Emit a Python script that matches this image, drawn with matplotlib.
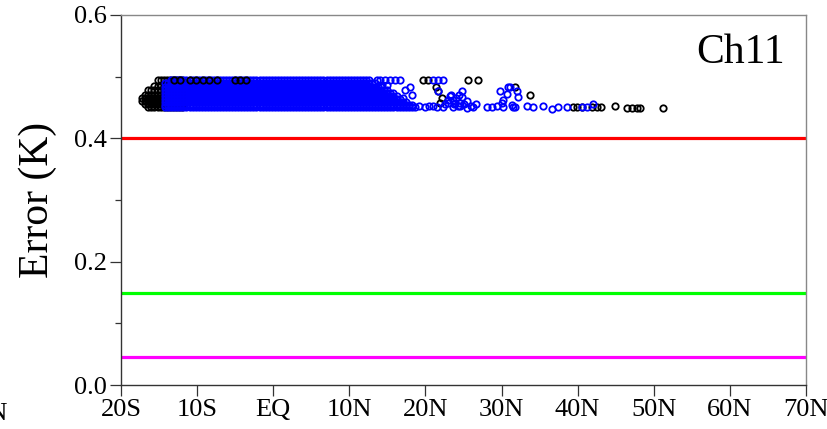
import numpy as np
import matplotlib
matplotlib.use("Agg")
import matplotlib.pyplot as plt

plt.rcParams['font.family'] = ['Liberation Serif', 'DejaVu Serif']

# ---- axis ticks ----
x_ticks = [-20, -10, 0, 10, 20, 30, 40, 50, 60, 70]
x_labels = ['20S', '10S', 'EQ', '10N', '20N', '30N', '40N', '50N', '60N', '70N']
y_ticks = [0.0, 0.2, 0.4, 0.6]
y_labels = ['0.0', '0.2', '0.4', '0.6']

# ---- threshold lines ----
thr_values = [0.4, 0.15, 0.046]
thr_colors = ['#ff0000', '#00ff00', '#ff00ff']

# ---- dense band (blue): latitudes read along each row, row error, row extent ----
band_lats = [-14.2, -13.8, -13.4, -13.0, -12.6, -12.2, -11.8, -11.4, -11.0, -10.6,
             -10.2, -9.8, -9.4, -9.0, -8.6, -8.2, -7.8, -7.4, -7.0, -6.6,
             -6.2, -5.8, -5.4, -5.0, -4.6, -4.2, -3.8, -3.4, -3.0, -2.6,
             -2.2, -1.8, -1.4, -1.0, -0.6, -0.2, 0.2, 0.6, 1.0, 1.4,
             1.8, 2.2, 2.6, 3.0, 3.4, 3.8, 4.2, 4.6, 5.0, 5.4,
             5.8, 6.2, 6.6, 7.0, 7.4, 7.8, 8.2, 8.6, 9.0, 9.4,
             9.8, 10.2, 10.6, 11.0, 11.4, 11.8, 12.2, 12.6, 13.0, 13.4,
             13.8, 14.2, 14.6, 15.0, 15.4, 15.8, 16.2, 16.6, 17.0, 17.4,
             17.8, 18.2, 18.6]
band_row_err = [0.494, 0.489, 0.484, 0.479, 0.474, 0.469, 0.464, 0.459, 0.454, 0.450]
band_row_start = [-13.4, -14.2, -14.2, -14.2, -14.2, -14.2, -14.2, -14.2, -14.2, -14.2]
band_row_end = [12.6, 13.4, 14.2, 15.0, 15.8, 16.2, 16.6, 17.4, 18.2, 18.6]

# ---- blue scattered points ----
blue_lat = [13.6, 14.0, 14.7, 15.3, 16.0, 16.6, 14.3, 15.0, 17.3, 18.0, 18.2, 17.0,
            21.0, 21.6, 22.3, 21.6, 24.8, 23.2, 23.6, 24.0, 24.4, 23.0, 23.8, 24.6,
            22.9, 23.4, 23.9, 24.3, 25.0, 25.5, 26.0, 26.6, 22.6, 24.8,
            29.8, 30.7, 31.1, 32.0, 32.2, 30.2, 31.8, 30.1, 30.8, 31.4,
            19.9, 21.0, 22.3, 23.6, 24.5, 25.5, 26.3, 28.1, 28.8, 29.4, 30.2, 31.5,
            33.3, 34.1, 35.5, 36.6, 37.4, 38.6, 40.6, 41.2, 42.0, 19.2, 20.5, 21.5]
blue_err = [0.494, 0.494, 0.494, 0.494, 0.494, 0.494, 0.486, 0.486, 0.478, 0.483, 0.470, 0.465,
            0.494, 0.494, 0.494, 0.477, 0.477, 0.468, 0.462, 0.465, 0.470, 0.458, 0.455, 0.457,
            0.462, 0.470, 0.458, 0.452, 0.455, 0.460, 0.452, 0.455, 0.455, 0.467,
            0.477, 0.472, 0.483, 0.477, 0.467, 0.462, 0.451, 0.457, 0.483, 0.454,
            0.450, 0.452, 0.451, 0.450, 0.452, 0.449, 0.450, 0.451, 0.450, 0.452, 0.451, 0.450,
            0.452, 0.451, 0.452, 0.448, 0.450, 0.451, 0.451, 0.451, 0.456, 0.453, 0.452, 0.451]

# ---- black left blob rows ----
black_lats = [-17.2, -16.8, -16.4, -16.0, -15.6, -15.2, -14.8, -14.4, -14.0, -13.6,
              -13.2, -12.8, -12.4, -12.0]
black_row_err = [0.494, 0.485, 0.478, 0.470, 0.465, 0.460, 0.455, 0.450]
black_row_start = [-15.2, -15.6, -16.4, -16.8, -17.2, -17.2, -16.8, -16.4]

# ---- black points over the band's top row ----
black_top_lat = [-13.0, -12.2, -11.0, -10.2, -9.2, -8.4, -7.4, -5.0, -4.4, -3.6]
black_top_err = [0.494, 0.494, 0.494, 0.494, 0.494, 0.494, 0.494, 0.494, 0.494, 0.494]

# ---- black scattered points ----
black_lat = [19.7, 20.3, 25.6, 26.9, 21.4, 21.7, 22.2, 21.9, 31.8, 33.7,
             39.4, 39.9, 40.6, 41.9, 42.5, 43.0, 44.9, 46.5, 47.1, 47.8, 48.2, 51.2]
black_err = [0.494, 0.494, 0.494, 0.494, 0.483, 0.476, 0.466, 0.457, 0.484, 0.470,
             0.450, 0.450, 0.450, 0.450, 0.450, 0.450, 0.452, 0.449, 0.449, 0.449, 0.449, 0.449]

fig = plt.figure(figsize=(8.27, 4.29), dpi=100)
ax = fig.add_axes([121/827, 44/429, 685/827, 370/429])

mk = dict(marker='o', linestyle='none', markerfacecolor='none', markersize=4.6, markeredgewidth=1.3)

# black blob
bx, by = [], []
for e, s in zip(black_row_err, black_row_start):
    for la in black_lats:
        if la >= s:
            bx.append(la); by.append(e)
ax.plot(bx, by, color='black', zorder=3, **mk)
ax.plot(black_lat, black_err, color='black', zorder=3, **mk)

# blue band
ux, uy = [], []
for e, s, t in zip(band_row_err, band_row_start, band_row_end):
    for la in band_lats:
        if s <= la <= t:
            ux.append(la); uy.append(e)
ax.plot(ux, uy, color='#0000ff', zorder=4, **mk)
ax.plot(blue_lat, blue_err, color='#0000ff', zorder=4, **mk)
ax.plot(black_top_lat, black_top_err, color='black', zorder=5, **mk)

for v, c in zip(thr_values, thr_colors):
    ax.axhline(v, color=c, lw=2.3, zorder=2)

ax.set_xlim(-20, 70)
ax.set_ylim(0, 0.6)
ax.set_xticks(x_ticks)
ax.set_xticklabels(x_labels)
ax.set_yticks(y_ticks)
ax.set_yticklabels(y_labels)
ax.set_yticks([0.1, 0.3, 0.5], minor=True)
ax.tick_params(axis='both', which='major', direction='out', length=8, width=0.9,
               labelsize=19, color='#333333', pad=2)
ax.tick_params(axis='y', which='minor', direction='out', length=4, width=0.9, color='#333333')
ax.tick_params(axis='x', which='major', length=8)

for sp in ['left', 'bottom']:
    ax.spines[sp].set_color('#333333')
    ax.spines[sp].set_linewidth(1.0)
for sp in ['top', 'right']:
    ax.spines[sp].set_color('#888888')
    ax.spines[sp].set_linewidth(1.0)

ax.set_ylabel('Error (K)', fontsize=30, labelpad=12)
ax.text(0.969, 0.870, 'Ch11', transform=ax.transAxes, ha='right', va='baseline', fontsize=30)

# clipped tick label of the neighbouring panel at the left edge
fig.text(8/827, 1 - 414/429, '70N', ha='right', va='center', fontsize=19)

fig.savefig('out.png', dpi=100)
